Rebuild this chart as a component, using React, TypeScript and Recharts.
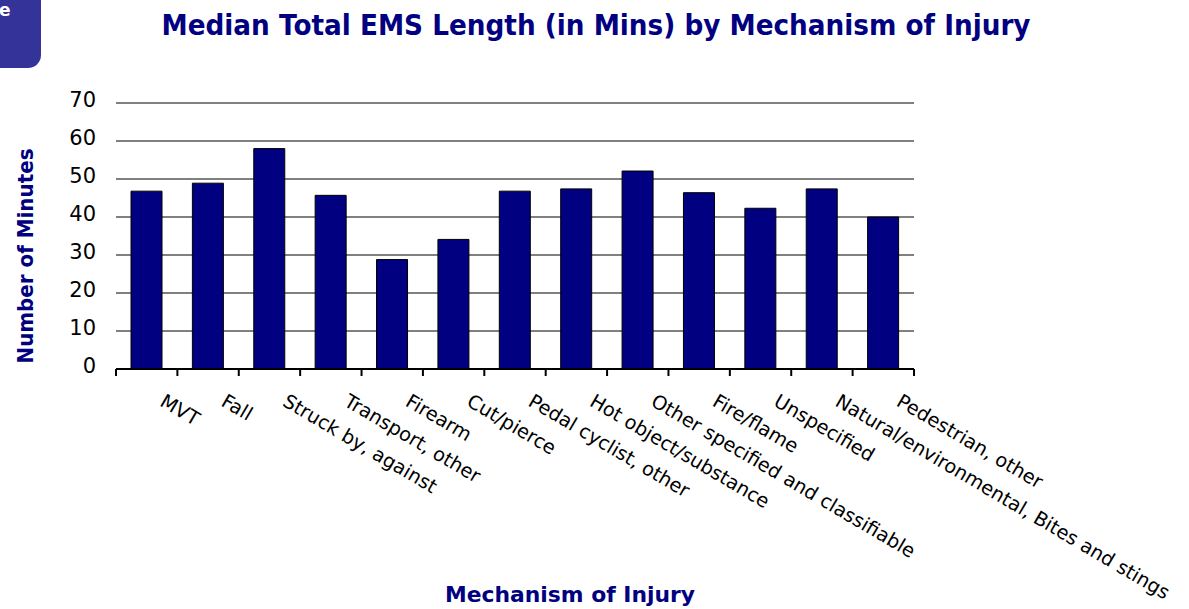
import React from 'react';
import { BarChart, Bar, XAxis, YAxis, CartesianGrid } from 'recharts';

const categories = [
  'MVT',
  'Fall',
  'Struck by, against',
  'Transport, other',
  'Firearm',
  'Cut/pierce',
  'Pedal cyclist, other',
  'Hot object/substance',
  'Other specified and classifiable',
  'Fire/flame',
  'Unspecified',
  'Natural/environmental, Bites and stings',
  'Pedestrian, other',
];
const medianMinutes = [46.8, 48.9, 58.0, 45.7, 28.8, 34.1, 46.8, 47.4, 52.1, 46.4, 42.3, 47.4, 40.0];
const yTicks = [0, 10, 20, 30, 40, 50, 60, 70];

const titleText = 'Median Total EMS Length (in Mins) by Mechanism of Injury';
const xLabelText = 'Mechanism of Injury';
const yLabelText = 'Number of Minutes';

const data = categories.map((name, i) => ({ name, minutes: medianMinutes[i] }));

const W = 1189;
const H = 609;
const Y_W = 60;
const X_H = 200;
const margin = { top: 103, right: 275, bottom: 40, left: 56 };
const plotW = W - margin.left - margin.right - Y_W;
const band = plotW / categories.length;
const NAVY = '#000080';
const FONT = '"DejaVu Sans", Verdana, sans-serif';

const XTick = (props: any) => {
  const { x, y, payload, index } = props;
  const left = x - band / 2;
  return (
    <g>
      <line x1={left} y1={y} x2={left} y2={y + 7} stroke="#000" strokeWidth={2} />
      {index === categories.length - 1 && (
        <line x1={left + band} y1={y} x2={left + band} y2={y + 7} stroke="#000" strokeWidth={2} />
      )}
      <text
        transform={`translate(${x + 12},${y + 36}) rotate(30.5)`}
        textAnchor="start"
        fontSize={19.3}
        fontFamily={FONT}
        fill="#000"
      >
        {payload.value}
      </text>
    </g>
  );
};

const YTick = (props: any) => {
  const { x, y, payload } = props;
  return (
    <text x={x} y={y + 4} textAnchor="end" fontSize={21} fontFamily={FONT} fill="#000">
      {payload.value}
    </text>
  );
};

export default function App() {
  return (
    <div style={{ position: 'absolute', left: 0, top: 0, width: W, height: H, background: '#fff', overflow: 'hidden' }}>
      <div
        style={{
          position: 'absolute',
          left: 0,
          top: 0,
          width: 41,
          height: 68,
          background: '#333399',
          borderBottomRightRadius: 13,
        }}
      />
      <div
        style={{
          position: 'absolute',
          left: -1,
          top: 0,
          color: '#fff',
          fontFamily: FONT,
          fontWeight: 'bold',
          fontSize: 17,
          lineHeight: '20px',
        }}
      >
        e
      </div>
      <BarChart
        width={W}
        height={H}
        data={data}
        margin={margin}
        barSize={31}
        style={{ position: 'absolute', left: 0, top: 0 }}
      >
        <CartesianGrid vertical={false} stroke="#808080" strokeWidth={2} />
        <XAxis
          dataKey="name"
          interval={0}
          height={X_H}
          tickSize={0}
          tickMargin={0}
          tickLine={false}
          axisLine={{ stroke: '#000', strokeWidth: 2 }}
          tick={<XTick />}
        />
        <YAxis
          width={Y_W}
          domain={[0, 70]}
          ticks={yTicks}
          axisLine={false}
          tickLine={false}
          tickSize={0}
          tickMargin={20}
          tick={<YTick />}
        />
        <Bar dataKey="minutes" fill={NAVY} stroke="#000" isAnimationActive={false} />
      </BarChart>
      <svg width={W} height={H} style={{ position: 'absolute', left: 0, top: 0, pointerEvents: 'none' }}>
        <text
          x={596}
          y={35}
          textAnchor="middle"
          fontFamily={FONT}
          fontWeight="bold"
          fontSize={29}
          fill={NAVY}
          textLength={869}
          lengthAdjust="spacingAndGlyphs"
        >
          {titleText}
        </text>
        <text
          x={570}
          y={602}
          textAnchor="middle"
          fontFamily={FONT}
          fontWeight="bold"
          fontSize={21}
          fill={NAVY}
          textLength={250}
          lengthAdjust="spacingAndGlyphs"
        >
          {xLabelText}
        </text>
        <text
          transform="translate(33,256) rotate(-90)"
          textAnchor="middle"
          fontFamily={FONT}
          fontWeight="bold"
          fontSize={21}
          fill={NAVY}
          textLength={215}
          lengthAdjust="spacingAndGlyphs"
        >
          {yLabelText}
        </text>
      </svg>
    </div>
  );
}
